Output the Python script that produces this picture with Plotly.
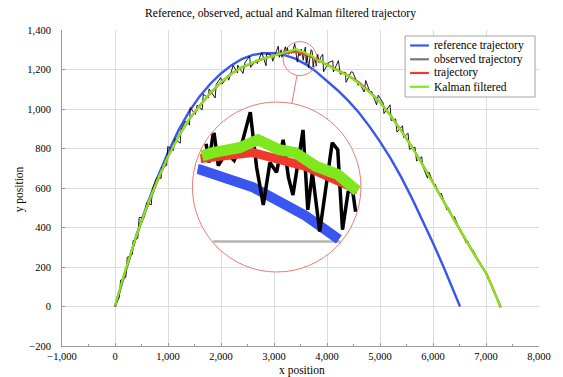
import math
import plotly.graph_objects as go

# ---------------- data ----------------
ref_x = [0, 200, 400, 600, 800, 1000, 1200, 1400, 1600, 1800, 2000, 2200, 2400, 2600, 2800, 3000,
         3200, 3400, 3600, 3800, 4000, 4200, 4400, 4600, 4800, 5000, 5200, 5400, 5600, 5800, 6000,
         6200, 6400, 6510]
ref_y = [0, 185, 358, 512, 652, 780, 893, 988, 1065, 1128, 1180, 1222, 1254, 1274, 1283, 1282,
         1273, 1255, 1226, 1188, 1142, 1095, 1042, 982, 912, 835, 750, 655, 550, 440, 322,
         200, 72, 0]

act_x = [0, 200, 400, 600, 800, 1000, 1200, 1400, 1600, 1800, 2000, 2200, 2400, 2600, 2800, 3000,
         3200, 3400, 3600, 3800, 4000, 4200, 4400, 4600, 4800, 5000, 5200, 5400, 5600, 5800, 6000,
         6200, 6400, 6600, 6800, 7000, 7100, 7200, 7280]
act_y = [0, 183, 352, 500, 635, 758, 862, 948, 1018, 1080, 1135, 1180, 1212, 1235, 1255, 1272,
         1284, 1290, 1276, 1252, 1226, 1200, 1170, 1135, 1088, 1035, 968, 890, 810, 720, 625,
         535, 440, 345, 255, 170, 110, 48, -5]

obs_x = [0, 80, 105, 205, 230, 330, 340, 430, 455, 555, 595, 685, 705, 790, 870, 880, 975, 995,
         1100, 1130, 1230, 1245, 1330, 1405, 1420, 1515, 1550, 1645, 1665, 1760, 1775, 1890, 1910,
         1995, 2020, 2125, 2145, 2230, 2310, 2315, 2415, 2450, 2540, 2560, 2665, 2685, 2770, 2850,
         2860, 2955, 2975,
         3080, 3100, 3135, 3150,
         3195, 3215, 3235, 3253, 3270, 3300, 3330, 3360, 3391, 3415, 3440, 3465, 3490, 3515,
         3535, 3552, 3575, 3590, 3608, 3625, 3653, 3680, 3700, 3721, 3739, 3760, 3777, 3795,
         3825, 3850, 3880,
         3920, 3935, 4030, 4110, 4120, 4215, 4250, 4345, 4360, 4455, 4485, 4590, 4595,
         4700, 4730, 4825, 4840, 4935, 4965, 5060, 5075, 5190, 5210, 5295, 5320, 5425, 5445, 5530,
         5555, 5660, 5690, 5790, 5800, 5895, 5925, 6025, 6040, 6130, 6155, 6260, 6290, 6385, 6405,
         6495, 6520, 6625, 6650, 6740, 6760, 6855, 6885, 6980, 7010, 7095, 7125, 7210, 7250]
obs_y = [5, 45, 133, 148, 249, 265, 333, 345, 450, 452, 525, 515, 596, 654, 649, 705, 714, 810,
         789, 849, 827, 896, 939, 919, 1007, 973, 1019, 996, 1075, 1056, 1102, 1056, 1125,
         1159, 1126, 1163, 1146, 1221, 1183, 1222, 1180, 1234, 1268, 1211, 1249, 1230, 1286, 1219,
         1280, 1272, 1242,
         1318, 1262, 1300, 1262,
         1296, 1315, 1280, 1313, 1277, 1290, 1282, 1300, 1331, 1275, 1237, 1280, 1270, 1303,
         1265, 1247, 1290, 1313, 1232, 1270, 1210, 1262, 1300, 1293, 1212, 1250, 1252, 1217,
         1276, 1235, 1262,
         1277, 1189, 1235, 1244, 1188, 1245, 1176, 1187, 1135, 1188, 1187, 1120, 1140,
         1086, 1144, 1076, 1090, 1021, 1070, 1030, 977, 1021, 942, 949, 883, 915, 856, 877,
         796, 807, 737, 758, 715, 650, 681, 610, 620, 563, 574, 491, 500, 441, 455,
         392, 391, 323, 333, 279, 284, 230, 222, 172, 170, 117, 93, 38, 8]

kf_x = [0, 200, 400, 600, 800, 1000, 1200, 1400, 1600, 1800, 2000, 2200, 2400, 2600, 2800, 3000,
        3150, 3250, 3350, 3420, 3500, 3560, 3640, 3720, 3800, 3900, 4000, 4200, 4400, 4600, 4800,
        5000, 5200, 5400, 5600, 5800, 6000, 6200, 6400, 6600, 6800, 7000, 7100, 7200, 7270]
kf_y = [5, 188, 356, 506, 640, 760, 860, 950, 1016, 1083, 1136, 1178, 1214, 1233, 1256, 1270,
        1282, 1290, 1295, 1303, 1293, 1290, 1276, 1268, 1250, 1240, 1222, 1196, 1168, 1130, 1086,
        1034, 966, 888, 808, 718, 624, 534, 438, 344, 254, 170, 110, 46, -5]

x_ticks = [-1000, 0, 1000, 2000, 3000, 4000, 5000, 6000, 7000, 8000]
y_ticks = [-200, 0, 200, 400, 600, 800, 1000, 1200, 1400]

series_names = ["reference trajectory", "observed trajectory", "trajectory", "Kalman filtered"]
series_colors = ["#3a55f0", "#000000", "#ee3b2e", "#7fe81c"]
legend_colors = ["#3a55f0", "#777777", "#ee3b2e", "#7fe81c"]

# ---------------- layout geometry ----------------
FONT = "Liberation Serif, DejaVu Serif, serif"
W, H = 563, 377
ML, MR, MT, MB = 62, 20, 30, 31
X_RANGE = [x_ticks[0], x_ticks[-1]]
Y_RANGE = [y_ticks[0], y_ticks[-1]]
PW, PH = W - ML - MR, H - MT - MB
SX = PW / (X_RANGE[1] - X_RANGE[0])   # px per data unit
SY = PH / (Y_RANGE[1] - Y_RANGE[0])


def to_data(px, py):
    return X_RANGE[0] + (px - ML) / SX, Y_RANGE[0] + (H - MB - py) / SY


def to_paper(px, py):
    return (px - ML) / PW, (H - MB - py) / PH


# spy: small circle (source) and big circle (magnified view), in pixels
SMALL_C = (302, 58.6)
SMALL_R = 17
BIG_C = (278.5, 187)
MAG = 5
BIG_R = SMALL_R * MAG
xs0, ys0 = to_data(*SMALL_C)
xb0, yb0 = to_data(*BIG_C)


def magnify(xs, ys):
    return [xb0 + MAG * (x - xs0) for x in xs], [yb0 + MAG * (y - ys0) for y in ys]


def clip_circle(xs, ys, rad):
    ox, oy = [], []
    prev_end_full = False
    for i in range(len(xs) - 1):
        u0, v0 = (xs[i] - xb0) * SX, (ys[i] - yb0) * SY
        u1, v1 = (xs[i + 1] - xb0) * SX, (ys[i + 1] - yb0) * SY
        du, dv = u1 - u0, v1 - v0
        a = du * du + dv * dv
        if a == 0:
            continue
        b = 2 * (u0 * du + v0 * dv)
        c = u0 * u0 + v0 * v0 - rad * rad
        disc = b * b - 4 * a * c
        if disc <= 0:
            prev_end_full = False
            continue
        sq = math.sqrt(disc)
        t0 = max(0.0, (-b - sq) / (2 * a))
        t1 = min(1.0, (-b + sq) / (2 * a))
        if t0 >= t1:
            prev_end_full = False
            continue
        p0 = (xs[i] + t0 * (xs[i + 1] - xs[i]), ys[i] + t0 * (ys[i + 1] - ys[i]))
        p1 = (xs[i] + t1 * (xs[i + 1] - xs[i]), ys[i] + t1 * (ys[i + 1] - ys[i]))
        if t0 == 0.0 and prev_end_full:
            ox.append(p1[0]); oy.append(p1[1])
        else:
            if ox:
                ox.append(None); oy.append(None)
            ox += [p0[0], p1[0]]; oy += [p0[1], p1[1]]
        prev_end_full = (t1 == 1.0)
    return ox, oy


fig = go.Figure()

main_widths = [2.4, 0.9, 2.2, 2.2]
spy_widths = [10, 3.5, 9, 11]
all_series = [(ref_x, ref_y), (obs_x, obs_y), (act_x, act_y), (kf_x, kf_y)]

for (sx_, sy_), name, col, w in zip(all_series, series_names, series_colors, main_widths):
    fig.add_trace(go.Scatter(x=sx_, y=sy_, mode="lines", name=name,
                             line=dict(color=col, width=w), showlegend=False,
                             hoverinfo="skip"))

# white disk of the magnifier
ang = [2 * math.pi * k / 180 for k in range(181)]
disk_x = [xb0 + BIG_R * math.cos(t) / SX for t in ang]
disk_y = [yb0 + BIG_R * math.sin(t) / SY for t in ang]
fig.add_trace(go.Scatter(x=disk_x, y=disk_y, mode="lines", fill="toself",
                         fillcolor="white", line=dict(width=0, color="white"),
                         showlegend=False, hoverinfo="skip"))

# magnified grid lines
clip_r = BIG_R - 0.8
for g in y_ticks:
    mx, my = magnify([X_RANGE[0], X_RANGE[1]], [g, g])
    cx, cy = clip_circle(mx, my, clip_r)
    if cx:
        fig.add_trace(go.Scatter(x=cx, y=cy, mode="lines", line=dict(color="#b4b4b4", width=2.5),
                                 showlegend=False, hoverinfo="skip"))
for g in x_ticks:
    mx, my = magnify([g, g], [Y_RANGE[0], Y_RANGE[1]])
    cx, cy = clip_circle(mx, my, clip_r)
    if cx:
        fig.add_trace(go.Scatter(x=cx, y=cy, mode="lines", line=dict(color="#b4b4b4", width=2.5),
                                 showlegend=False, hoverinfo="skip"))

# magnified series
for (sx_, sy_), col, w in zip(all_series, series_colors, spy_widths):
    mx, my = magnify(sx_, sy_)
    cx, cy = clip_circle(mx, my, clip_r - w / 4)
    fig.add_trace(go.Scatter(x=cx, y=cy, mode="lines", line=dict(color=col, width=w),
                             showlegend=False, hoverinfo="skip", connectgaps=False))

shapes = []
circ_col = "#ec6a62"
for (c, r) in [(SMALL_C, SMALL_R), (BIG_C, BIG_R)]:
    x0, y0 = to_data(c[0] - r, c[1] + r)
    x1, y1 = to_data(c[0] + r, c[1] - r)
    shapes.append(dict(type="circle", xref="x", yref="y", x0=x0, y0=y0, x1=x1, y1=y1,
                       line=dict(color=circ_col, width=0.9), layer="above"))
# connector between the two circles
dxp, dyp = BIG_C[0] - SMALL_C[0], BIG_C[1] - SMALL_C[1]
dl = math.hypot(dxp, dyp)
ux, uy = dxp / dl, dyp / dl
a_x, a_y = to_data(SMALL_C[0] + ux * SMALL_R, SMALL_C[1] + uy * SMALL_R)
b_x, b_y = to_data(BIG_C[0] - ux * BIG_R, BIG_C[1] - uy * BIG_R)
shapes.append(dict(type="line", xref="x", yref="y", x0=a_x, y0=a_y, x1=b_x, y1=b_y,
                   line=dict(color=circ_col, width=0.9), layer="above"))

# manual legend
LB = (408, 36, 539, 97)
p0 = to_paper(LB[0], LB[3]); p1 = to_paper(LB[2], LB[1])
shapes.append(dict(type="rect", xref="paper", yref="paper", x0=p0[0], y0=p0[1], x1=p1[0], y1=p1[1],
                   line=dict(color="#9a9a9a", width=0.9), fillcolor="white", layer="above"))
annotations = []
row_y = [45.5, 59.3, 73.0, 86.8]
for name, col, ry in zip(series_names, legend_colors, row_y):
    q0 = to_paper(413, ry); q1 = to_paper(432, ry)
    shapes.append(dict(type="line", xref="paper", yref="paper", x0=q0[0], y0=q0[1], x1=q1[0], y1=q1[1],
                       line=dict(color=col, width=2.2), layer="above"))
    t = to_paper(435, ry)
    annotations.append(dict(x=t[0], y=t[1], xref="paper", yref="paper", text=name, showarrow=False,
                            xanchor="left", yanchor="middle", font=dict(size=11.5, color="black", family=FONT)))

# title and axis titles
tt = to_paper(282.5, 14)
annotations.append(dict(x=tt[0], y=tt[1], xref="paper", yref="paper",
                        text="Reference, observed, actual and Kalman filtered trajectory",
                        showarrow=False, xanchor="center", yanchor="middle",
                        font=dict(size=11.6, color="black", family=FONT)))
xt = to_paper(304, 370)
annotations.append(dict(x=xt[0], y=xt[1], xref="paper", yref="paper", text="x position",
                        showarrow=False, xanchor="center", yanchor="middle",
                        font=dict(size=11.5, color="black", family=FONT)))
yt = to_paper(19, 189)
annotations.append(dict(x=yt[0], y=yt[1], xref="paper", yref="paper", text="y position",
                        showarrow=False, xanchor="center", yanchor="middle", textangle=-90,
                        font=dict(size=11.5, color="black", family=FONT)))

axis_common = dict(showgrid=True, gridcolor="#dcdcdc", gridwidth=0.7, zeroline=False,
                   showline=True, linecolor="#9a9a9a", linewidth=0.9, ticks="inside",
                   tickcolor="#9a9a9a", ticklen=3, tickformat=",d",
                   tickfont=dict(size=10.5, color="black", family=FONT), fixedrange=True)

fig.update_layout(
    width=W, height=H,
    margin=dict(l=ML, r=MR, t=MT, b=MB, pad=0),
    paper_bgcolor="white", plot_bgcolor="white",
    showlegend=False,
    shapes=shapes, annotations=annotations,
    xaxis=dict(range=X_RANGE, tickvals=x_ticks, ticklabelstandoff=0,
               minor=dict(dtick=500, tick0=0, ticks="inside", ticklen=2, tickcolor="#9a9a9a", showgrid=False),
               **axis_common),
    yaxis=dict(range=Y_RANGE, tickvals=y_ticks, ticklabelstandoff=8, **axis_common),
)

fig.write_html("out.html")
